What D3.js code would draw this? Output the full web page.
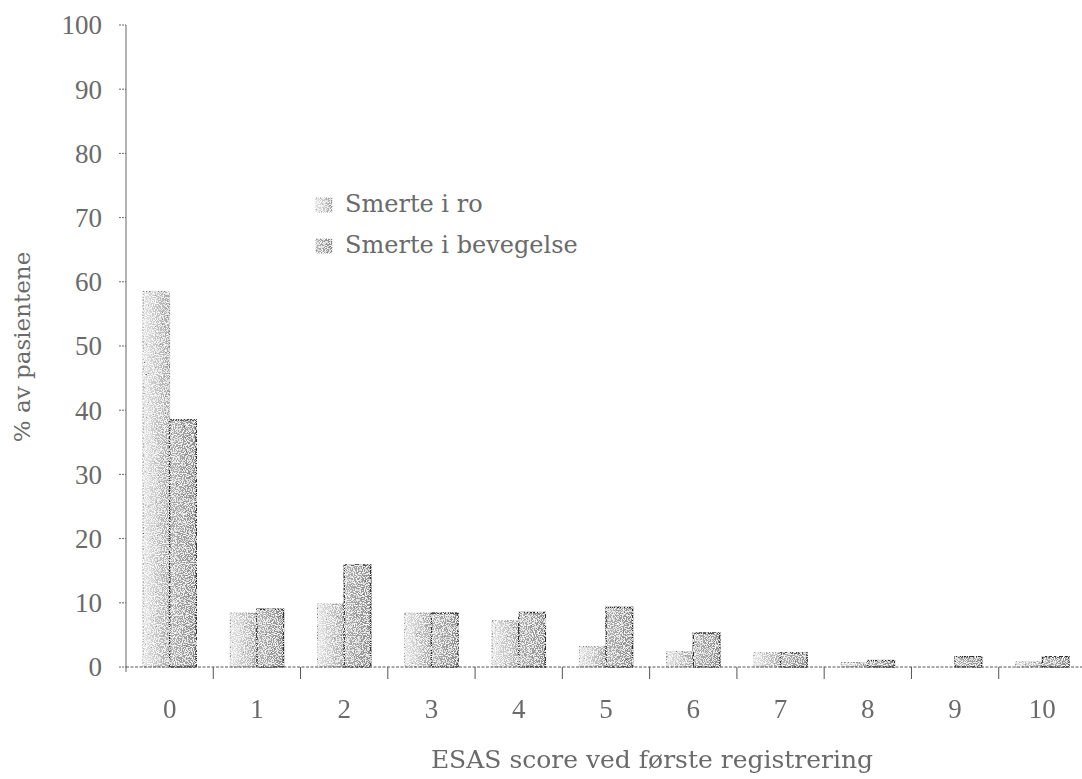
<!DOCTYPE html>
<html>
<head>
<meta charset="utf-8">
<script src="https://cdn.jsdelivr.net/npm/d3@7/dist/d3.min.js"></script>
<style>
  html, body { margin: 0; padding: 0; background: #fff; }
  svg { display: block; }
</style>
</head>
<body>
<svg id="chart" width="1082" height="779"></svg>
<script>
// ESAS pain scores at first registration (% of patients)
const scores = ["0", "1", "2", "3", "4", "5", "6", "7", "8", "9", "10"];
const seriesNames = ["Smerte i ro", "Smerte i bevegelse"];
const smerteIRo = [58.5, 8.4, 9.8, 8.4, 7.2, 3.2, 2.4, 2.2, 0.7, 0, 0.8];
const smerteIBevegelse = [38.5, 9.0, 15.9, 8.4, 8.5, 9.3, 5.3, 2.2, 1.0, 1.6, 1.6];
const yTicks = [0, 10, 20, 30, 40, 50, 60, 70, 80, 90, 100];
const xTitle = "ESAS score ved første registrering";
const yTitle = "% av pasientene";

const rows = scores.map((s, i) => ({ score: s, values: [smerteIRo[i], smerteIBevegelse[i]] }));

const svg = d3.select("#chart");
const textColor = "#6a6a6a";
const digitFont = "'Liberation Serif', 'Times New Roman', serif";
const textFont = "'DejaVu Serif', serif";

const plot = { left: 126, right: 1086, top: 25, bottom: 667 };

const x0 = d3.scaleBand()
  .domain(scores)
  .range([plot.left, plot.right])
  .paddingInner(0.39)
  .paddingOuter(0.195);
const x1 = d3.scaleBand()
  .domain([0, 1])
  .range([0, x0.bandwidth()]);
const y = d3.scaleLinear().domain([0, 100]).range([plot.bottom, plot.top]);

// Grainy stipple texture for the bars
const defs = svg.append("defs");
const f = defs.append("filter").attr("id", "grain")
  .attr("x", "-5%").attr("y", "-5%").attr("width", "110%").attr("height", "110%");
f.append("feTurbulence").attr("type", "fractalNoise").attr("baseFrequency", 0.9)
  .attr("numOctaves", 2).attr("seed", 4).attr("result", "noise");
f.append("feColorMatrix").attr("in", "noise").attr("type", "matrix")
  .attr("values", "0 0 0 0 0  0 0 0 0 0  0 0 0 0 0  1 0 0 0 0").attr("result", "darkA");
f.append("feComponentTransfer").attr("in", "darkA").attr("result", "darkDots")
  .append("feFuncA").attr("type", "discrete").attr("tableValues", "0 0 0 0 0 0 0.45 0.8");
f.append("feComposite").attr("in", "darkDots").attr("in2", "SourceGraphic")
  .attr("operator", "in").attr("result", "darkClip");
f.append("feColorMatrix").attr("in", "noise").attr("type", "matrix")
  .attr("values", "0 0 0 0 1  0 0 0 0 1  0 0 0 0 1  0 1 0 0 0").attr("result", "lightA");
f.append("feComponentTransfer").attr("in", "lightA").attr("result", "lightDots")
  .append("feFuncA").attr("type", "discrete").attr("tableValues", "0 0 0 0 0.6 0.9 1 1");
f.append("feComposite").attr("in", "lightDots").attr("in2", "SourceGraphic")
  .attr("operator", "in").attr("result", "lightClip");
const merge = f.append("feMerge");
merge.append("feMergeNode").attr("in", "SourceGraphic");
merge.append("feMergeNode").attr("in", "darkClip");
merge.append("feMergeNode").attr("in", "lightClip");

const gradRo = defs.append("linearGradient").attr("id", "fillRo")
  .attr("x1", 0).attr("x2", 1).attr("y1", 0).attr("y2", 0);
gradRo.append("stop").attr("offset", 0).attr("stop-color", "#e4e4e4");
gradRo.append("stop").attr("offset", 1).attr("stop-color", "#a8a8a8");
const gradBev = defs.append("linearGradient").attr("id", "fillBev")
  .attr("x1", 0).attr("x2", 1).attr("y1", 0).attr("y2", 0);
gradBev.append("stop").attr("offset", 0).attr("stop-color", "#b4b4b4");
gradBev.append("stop").attr("offset", 1).attr("stop-color", "#8e8e8e");

const fills = ["url(#fillRo)", "url(#fillBev)"];
const strokes = ["#777", "#2e2e2e"];
const dashes = ["1.5 1.5", null];
const strokeW = [1, 1.4];

// Y axis
const yAxis = svg.append("g");
yAxis.append("line")
  .attr("x1", plot.left).attr("x2", plot.left)
  .attr("y1", y(100)).attr("y2", y(0) + 5)
  .attr("stroke", "#666").attr("stroke-width", 1);
yAxis.selectAll(".ytick").data(yTicks).join("line")
  .attr("x1", plot.left - 7).attr("x2", plot.left)
  .attr("y1", d => y(d)).attr("y2", d => y(d))
  .attr("stroke", "#666").attr("stroke-width", 1).attr("stroke-dasharray", "2 1");
yAxis.selectAll(".ylab").data(yTicks).join("text")
  .attr("x", 102).attr("y", d => y(d))
  .attr("dy", "0.35em")
  .attr("text-anchor", "end")
  .attr("font-family", digitFont).attr("font-size", 27)
  .attr("fill", textColor)
  .text(d => d);

// Bars
const bars = svg.append("g").attr("filter", "url(#grain)");
const groups = bars.selectAll("g").data(rows).join("g")
  .attr("transform", d => `translate(${x0(d.score)},0)`);
groups.selectAll("rect").data(d => d.values.map((v, k) => ({ v, k }))).join("rect")
  .attr("x", d => x1(d.k))
  .attr("width", x1.bandwidth())
  .attr("y", d => y(d.v))
  .attr("height", d => y(0) - y(d.v))
  .attr("fill", d => fills[d.k])
  .attr("stroke", d => d.v > 0 ? strokes[d.k] : "none")
  .attr("stroke-width", d => strokeW[d.k])
  .attr("stroke-dasharray", d => dashes[d.k]);

// X axis
const xAxis = svg.append("g");
xAxis.append("line")
  .attr("x1", plot.left).attr("x2", 1082)
  .attr("y1", y(0)).attr("y2", y(0))
  .attr("stroke", "#555").attr("stroke-width", 1).attr("stroke-dasharray", "3 1.5");
const step = x0.step();
xAxis.selectAll(".xtick").data(scores.slice(0, -1)).join("line")
  .attr("x1", d => x0(d) + x0.bandwidth() / 2 + step / 2)
  .attr("x2", d => x0(d) + x0.bandwidth() / 2 + step / 2)
  .attr("y1", y(0)).attr("y2", y(0) + 12)
  .attr("stroke", "#555").attr("stroke-width", 1);
xAxis.selectAll(".xlab").data(scores).join("text")
  .attr("x", d => x0(d) + x0.bandwidth() / 2)
  .attr("y", 718)
  .attr("text-anchor", "middle")
  .attr("font-family", digitFont).attr("font-size", 27)
  .attr("fill", textColor)
  .text(d => d);

// Axis titles
svg.append("text")
  .attr("x", 652).attr("y", 768)
  .attr("text-anchor", "middle")
  .attr("font-family", textFont).attr("font-size", 25)
  .attr("fill", textColor)
  .text(xTitle);
svg.append("text")
  .attr("transform", "translate(30,347) rotate(-90)")
  .attr("text-anchor", "middle")
  .attr("font-family", textFont).attr("font-size", 23)
  .attr("fill", textColor)
  .text(yTitle);

// Legend
const legend = svg.append("g").attr("transform", "translate(316,0)");
const legendY = [212, 253];
const items = legend.selectAll("g").data(seriesNames).join("g")
  .attr("transform", (d, i) => `translate(0,${legendY[i]})`);
items.append("rect")
  .attr("x", 0).attr("y", -14).attr("width", 16).attr("height", 14)
  .attr("fill", (d, i) => fills[i])
  .attr("stroke", "#777").attr("stroke-width", 0.8)
  .attr("stroke-dasharray", "1 1")
  .attr("filter", "url(#grain)");
items.append("text")
  .attr("x", 29).attr("y", 0)
  .attr("font-family", textFont).attr("font-size", 24)
  .attr("fill", textColor)
  .text(d => d);
</script>
</body>
</html>
